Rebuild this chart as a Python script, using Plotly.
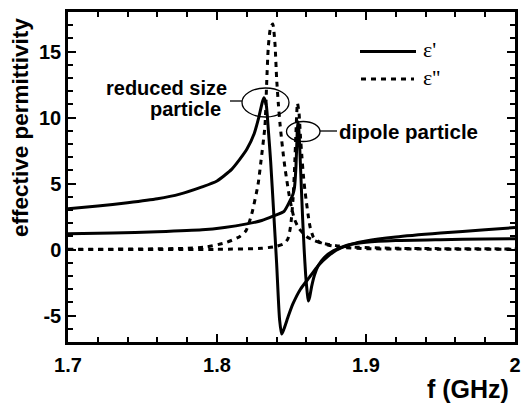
import plotly.graph_objects as go

# ---- data ----
f_red_re = [1.70, 1.72, 1.74, 1.76, 1.775, 1.79, 1.80, 1.81, 1.815, 1.82, 1.825, 1.828, 1.8305, 1.8315,
            1.833, 1.8345, 1.836, 1.838, 1.840, 1.842, 1.8434, 1.845, 1.848, 1.851, 1.856, 1.862, 1.868,
            1.874, 1.88, 1.885, 1.89, 1.90, 1.92, 1.95, 1.98, 2.00]
eps_red_re = [3.1, 3.3, 3.55, 3.85, 4.2, 4.75, 5.2, 6.1, 6.8, 7.6, 8.8, 10.0, 11.2, 11.5,
              11.0, 9.0, 6.7, 2.9, -1.0, -5.3, -6.4, -6.0, -5.0, -4.1, -3.0, -2.1, -1.2,
              -0.55, -0.05, 0.2, 0.4, 0.65, 0.95, 1.25, 1.5, 1.67]

f_red_im = [1.70, 1.75, 1.78, 1.793, 1.8065, 1.8154, 1.8195, 1.8233, 1.8275, 1.8293, 1.8322, 1.8333,
            1.8344, 1.8359, 1.8374, 1.8389, 1.840, 1.8412, 1.8423, 1.8434, 1.8445, 1.8456, 1.8468,
            1.848, 1.850, 1.852, 1.855, 1.86, 1.865, 1.87, 1.88, 1.89, 1.92, 2.00]
eps_red_im = [0.02, 0.05, 0.1, 0.2, 0.55, 1.0, 1.44, 2.7, 4.9, 6.5, 9.4, 12.5,
              15.3, 16.8, 17.1, 15.6, 13.0, 11.0, 9.5, 8.3, 7.2, 6.2, 5.3,
              4.4, 3.2, 2.3, 1.6, 1.0, 0.7, 0.5, 0.3, 0.2, 0.1, 0.05]

f_dip_re = [1.70, 1.73, 1.76, 1.79, 1.805, 1.82, 1.83, 1.838, 1.845, 1.849, 1.851, 1.852, 1.853,
            1.8537, 1.8542, 1.8548, 1.8555, 1.8565, 1.8575, 1.8585, 1.8595, 1.8605, 1.8613, 1.8622,
            1.8635, 1.8655, 1.868, 1.872, 1.878, 1.885, 1.89, 1.90, 1.92, 1.95, 1.98, 2.00]
eps_dip_re = [1.2, 1.25, 1.35, 1.5, 1.68, 1.95, 2.2, 2.55, 2.9, 3.7, 4.2, 4.7, 6.3,
              8.5, 9.7, 9.3, 7.8, 5.0, 2.3, 0.0, -1.9, -3.2, -3.9, -3.6,
              -2.8, -1.9, -1.2, -0.6, -0.1, 0.25, 0.4, 0.55, 0.68, 0.75, 0.8, 0.83]

f_dip_im = [1.70, 1.80, 1.83, 1.84, 1.845, 1.8475, 1.849, 1.850, 1.851, 1.852, 1.853, 1.854, 1.855,
            1.856, 1.857, 1.858, 1.859, 1.860, 1.8612, 1.8625, 1.8645, 1.867, 1.87, 1.875, 1.885,
            1.90, 1.95, 2.00]
eps_dip_im = [0.0, 0.02, 0.1, 0.25, 0.45, 0.8, 1.5, 2.4, 3.8, 6.0, 8.9, 11.1, 10.4,
              8.6, 7.0, 5.6, 4.5, 3.6, 2.6, 1.7, 1.0, 0.7, 0.5, 0.33, 0.15,
              0.07, 0.03, 0.02]

x_tickvals = [1.7, 1.8, 1.9, 2.0]
x_ticktext = ["1.7", "1.8", "1.9", "2"]
y_tickvals = [-5, 0, 5, 10, 15]
y_ticktext = ["-5", "0", "5", "10", "15"]

legend_labels = ["\u03b5'", "\u03b5''"]

# ---- layout geometry in page pixels (body margin removed by post_script) ----
W, H = 521, 403
PL, PR, PT, PB = 68, 515, 12, 342          # plot area
L, T, R, B = PL, PT, W - PR, H - PB
PW, PH = PR - PL, PB - PT
XR = [1.7, 2.0]
YR = [-7, 18]


def px(xp):
    return (xp - PL) / PW


def py(yp):
    return 1 - (yp - PT) / PH


def dx(xp):
    return XR[0] + (xp - PL) / PW * (XR[1] - XR[0])


def dy(yp):
    return YR[1] - (yp - PT) / PH * (YR[1] - YR[0])


SANS = "Liberation Sans"
SERIF = "Liberation Serif"
solid = dict(color="black", width=3)
dotted = dict(color="black", width=3, dash="5px,5px")

fig = go.Figure()
for fx, fy, ln in [(f_red_re, eps_red_re, solid), (f_dip_re, eps_dip_re, solid),
                   (f_red_im, eps_red_im, dotted), (f_dip_im, eps_dip_im, dotted)]:
    fig.add_trace(go.Scatter(x=fx, y=fy, mode="lines", line=ln,
                             line_shape="spline", line_smoothing=0.6, showlegend=False))

axis_common = dict(showgrid=False, zeroline=False, showline=True, linecolor="black", linewidth=2.5,
                   mirror="ticks", ticks="inside", ticklen=8, tickwidth=2, tickcolor="black",
                   tickfont=dict(family=SANS, size=20, color="black", weight="bold"))

fig.update_xaxes(range=XR, tickvals=x_tickvals, ticktext=x_ticktext,
                 minor=dict(dtick=0.02, tick0=1.7, ticks="inside", ticklen=5, tickwidth=2, tickcolor="black"),
                 ticklabelstandoff=3, **axis_common)
fig.update_yaxes(range=YR, tickvals=y_tickvals, ticktext=y_ticktext,
                 minor=dict(dtick=1, tick0=0, ticks="inside", ticklen=5, tickwidth=2, tickcolor="black"),
                 ticklabelstandoff=0, **axis_common)

thin = dict(color="black", width=1.3)
shapes = [
    # legend samples
    dict(type="line", xref="paper", yref="paper", x0=px(360), x1=px(416), y0=py(51.5), y1=py(51.5),
         line=dict(color="black", width=3)),
    dict(type="line", xref="paper", yref="paper", x0=px(361), x1=px(414), y0=py(79), y1=py(79),
         line=dict(color="black", width=3, dash="5px,5px")),
    # ellipses and connectors
    dict(type="circle", xref="x", yref="y", x0=dx(242), x1=dx(289), y0=dy(117), y1=dy(88), line=thin),
    dict(type="line", xref="x", yref="y", x0=dx(230), x1=dx(242), y0=dy(101), y1=dy(101), line=thin),
    dict(type="circle", xref="x", yref="y", x0=dx(286.5), x1=dx(320), y0=dy(141.5), y1=dy(121.5), line=thin),
    dict(type="line", xref="x", yref="y", x0=dx(320), x1=dx(337), y0=dy(131), y1=dy(131), line=thin),
]

ann_font = dict(family=SANS, size=20, color="black", weight="bold")
ann = [
    dict(text="reduced size", x=px(229), y=py(88), xanchor="right", font=ann_font),
    dict(text="particle", x=px(223), y=py(109.5), xanchor="right", font=ann_font),
    dict(text="dipole particle", x=px(337), y=py(131), xanchor="left",
         font=dict(family=SANS, size=20.5, color="black", weight="bold")),
    dict(text=legend_labels[0], x=px(421), y=py(50), xanchor="left",
         font=dict(family=SERIF, size=22, color="black")),
    dict(text=legend_labels[1], x=px(421), y=py(77), xanchor="left",
         font=dict(family=SERIF, size=22, color="black")),
    dict(text="f (GHz)", x=px(511), y=py(389), xanchor="right",
         font=dict(family=SANS, size=25, color="black", weight="bold")),
    dict(text="effective permittivity", x=px(20), y=py(128), xanchor="center", textangle=-90,
         font=dict(family=SANS, size=22.5, color="black", weight="bold")),
]
for a in ann:
    a.update(xref="paper", yref="paper", yanchor="middle", showarrow=False)

fig.update_layout(width=W, height=H, margin=dict(l=L, r=R, t=T, b=B, autoexpand=False),
                  paper_bgcolor="white", plot_bgcolor="white",
                  shapes=shapes, annotations=ann, showlegend=False)

fig.write_html("out.html", config={"displayModeBar": False},
               post_script="document.body.style.margin='0px';document.body.style.overflow='hidden';")
